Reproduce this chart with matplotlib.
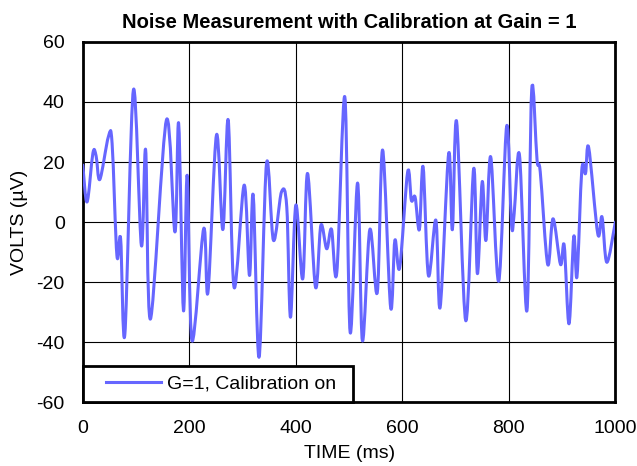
import numpy as np
import matplotlib
matplotlib.use('Agg')
import matplotlib.pyplot as plt
from matplotlib.path import Path
from matplotlib.patches import PathPatch
from matplotlib.lines import Line2D
from matplotlib.legend_handler import HandlerBase

plt.rcParams['font.family'] = ['Liberation Sans', 'DejaVu Sans']
plt.rcParams['axes.unicode_minus'] = False

# values (peaks / troughs of the trace)
time_ms = [0, 8, 19, 25, 32, 48, 55, 64, 71, 79, 95, 110, 118, 127, 157, 173, 180,
           189, 196, 205, 227, 235, 251, 263, 273, 284, 303, 313, 320, 331, 345,
           358, 373, 383, 390, 400, 413, 422, 437, 447, 458, 467, 477, 492, 502,
           516, 525, 539, 553, 563, 578, 586, 595, 610, 617, 624, 632, 639, 649,
           663, 671, 687, 694, 702, 719, 734, 741, 750, 757, 766, 781, 796, 805,
           810, 820, 834, 843, 853, 859, 873, 883, 897, 904, 913, 922, 928, 937,
           944, 950, 967, 975, 984, 1000]
volts_uv = [19, 6.7, 23, 22, 14.2, 28.4, 26.2, -11.1, -5.5, -37.3, 44, -7.8, 24,
            -32.3, 34, -3.3, 32.8, -29.5, 15.6, -39.5, -2.2, -23.4, 29, -2.5, 34,
            -21.7, 12.3, -17.8, 8.9, -45, 19.5, -6.1, 10, 5, -31.7, 5.6, -18.9,
            16.2, -21.7, -1.1, -8.9, -2.4, -16.7, 41.7, -36.7, 13, -39.5, -2.5,
            -23.4, 24, -28.4, -6.1, -15.2, 16.7, 7.2, 8.3, -2.5, 18.4, -17.8, 0.6,
            -28.4, 22.8, -2.5, 33.4, -32.8, 17.8, -17.2, 13.4, -6.1, 21.7, -19.7,
            32, -0.8, 2.8, 22.3, -29.5, 44.2, 20.6, 16.7, -14.1, 1.1, -14.1, -7.8,
            -33.9, -4.8, -18.1, 17.3, 16.2, 24.8, -3.9, 1.7, -13.4, 0]
series_label = 'G=1, Calibration on'
x_ticks = [0, 200, 400, 600, 800, 1000]
y_ticks = [-60, -40, -20, 0, 20, 40, 60]

line_color = '#6666FF'
fs = 14

fig = plt.figure(figsize=(6.37, 4.66), dpi=100)
ax = fig.add_axes([0.130, 0.137, 0.836, 0.773])

# smoothed line (Excel style), bezier through the read points
x = np.array(time_ms, float)
y = np.array(volts_uv, float)
verts = [(x[0], y[0])]
codes = [Path.MOVETO]
n = len(x)
for i in range(n - 1):
    p0 = np.array([x[max(i - 1, 0)], y[max(i - 1, 0)]])
    p1 = np.array([x[i], y[i]])
    p2 = np.array([x[i + 1], y[i + 1]])
    p3 = np.array([x[min(i + 2, n - 1)], y[min(i + 2, n - 1)]])
    c1 = p1 + (p2 - p0) / 6.0
    c2 = p2 - (p3 - p1) / 6.0
    verts += [tuple(c1), tuple(c2), tuple(p2)]
    codes += [Path.CURVE4] * 3
ax.add_patch(PathPatch(Path(verts, codes), facecolor='none', edgecolor=line_color,
                       lw=2.2, zorder=3, capstyle='round', joinstyle='round'))

ax.set_xlim(0, 1000)
ax.set_ylim(-60, 60)
ax.set_xticks(x_ticks)
ax.set_yticks(y_ticks)
ax.tick_params(length=0, labelsize=fs)
ax.tick_params(axis='x', pad=13)
ax.tick_params(axis='y', pad=13)
ax.grid(True, color='black', lw=0.8)
ax.set_axisbelow(True)
for s in ax.spines.values():
    s.set_linewidth(2)
    s.set_color('black')

ax.set_title('Noise Measurement with Calibration at Gain = 1', fontsize=14.5,
             fontweight='bold', pad=10)
ax.set_xlabel('TIME (ms)', fontsize=fs)
ax.xaxis.set_label_coords(0.5, -0.12)
ax.set_ylabel('VOLTS (µV)', fontsize=fs)
ax.yaxis.set_label_coords(-0.103, 0.5)


class ShortLine(HandlerBase):
    def create_artists(self, legend, orig_handle, xdescent, ydescent, width,
                       height, fontsize, trans):
        yy = height / 2 - ydescent
        ln = Line2D([width * 0.2 - xdescent, width - xdescent], [yy, yy],
                    color=orig_handle.get_color(), lw=orig_handle.get_linewidth())
        ln.set_transform(trans)
        return [ln]


handle = Line2D([], [], color=line_color, lw=2.2)
leg = ax.legend([handle], [series_label], loc='lower left',
                bbox_to_anchor=(0, 0, 0.5075, 1), mode='expand',
                borderaxespad=0, fancybox=False, framealpha=1, edgecolor='black',
                fontsize=fs, handlelength=3.53, handletextpad=0.3, borderpad=0.48,
                handler_map={Line2D: ShortLine()})
leg.get_frame().set_linewidth(2)

fig.savefig('out.png', dpi=100)
